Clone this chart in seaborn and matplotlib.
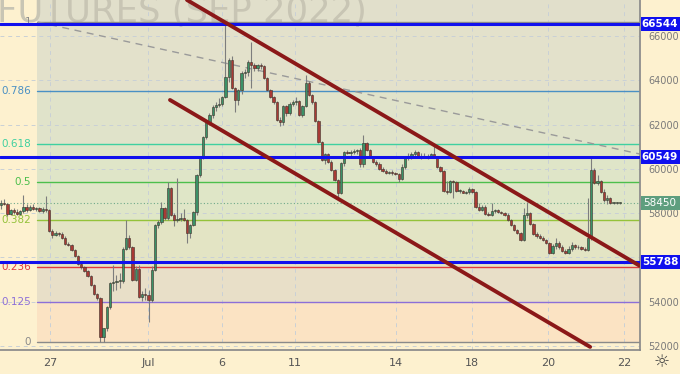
import matplotlib
matplotlib.use("Agg")
import matplotlib.pyplot as plt
import matplotlib.transforms as mtransforms
from matplotlib.patches import Rectangle
import numpy as np
import seaborn as sns

# candles (hourly-ish bars)
opens = [58350, 58480, 58400, 57950, 58150, 58050, 57980, 58100, 58300, 58150,
         58300, 58200, 58250, 58100, 58200, 58150, 57200, 57000, 57100, 57050,
         56900, 56600, 56550, 56350, 56050, 55700, 55550, 55400, 55150, 54750,
         54350, 54150, 52400, 52800, 53750, 54850, 54900, 54950, 54950, 56400,
         56900, 56450, 55000, 55500, 54200, 54350, 54300, 54100, 55450, 57450,
         57600, 58230, 57780, 59140, 57920, 57690, 57750, 57800, 57700, 57110,
         57470, 58050, 59720, 60540, 61440, 62120, 62430, 62800, 62900, 62950,
         63250, 64150, 64900, 63650, 63100, 63550, 64330, 64370, 64830, 64700,
         64550, 64700, 64650, 64100, 63560, 63250, 63000, 62200, 62100, 62850,
         62500, 62950, 63000, 63050, 62450, 62850, 63880, 63350, 63000, 62150,
         61200, 60400, 60650, 60300, 59950, 59500, 58900, 60250, 60750, 60700,
         60750, 60800, 60850, 60200, 61150, 60850, 60550, 60300, 60200, 60000,
         59900, 59800, 59850, 59800, 59750, 59550, 60100, 60550, 60600, 60650,
         60750, 60550, 60600, 60550, 60600, 60650, 60550, 60100, 59900, 59000,
         58950, 59450, 59400, 59000, 59000, 58900, 58950, 59100, 58950, 58300,
         58150, 58300, 57950, 57900, 58100, 58150, 58050, 58000, 57900, 57700,
         57450, 57250, 57100, 56800, 57900, 58000, 57500, 57050, 56950, 56900,
         56800, 56650, 56200, 56500, 56650, 56450, 56300, 56200, 56400, 56550,
         56450, 56450, 56400, 56350, 56900, 59950, 59350, 59450, 58950, 58600,
         58700, 58450, 58450, 58450]
highs = [58600, 58650, 58450, 58200, 58250, 58200, 58150, 58800, 58400, 58350,
         58400, 58300, 58300, 58300, 58780, 58200, 57300, 57200, 57150, 57150,
         56950, 56700, 56600, 56400, 56100, 55750, 55600, 55450, 55200, 54800,
         54400, 54200, 52800, 53800, 54900, 55650, 55200, 55300, 56450, 57700,
         57000, 56500, 55600, 55650, 54500, 54600, 54550, 55600, 57500, 57700,
         58500, 58300, 59410, 59200, 58000, 59600, 58000, 58200, 57750, 57500,
         58100, 59750, 60600, 61500, 62200, 62500, 62900, 63000, 63200, 63300,
         66630, 65000, 65100, 63700, 63600, 64400, 64500, 64900, 65730, 64800,
         64750, 64800, 64700, 64150, 63600, 63300, 63050, 62350, 62900, 62900,
         63000, 63100, 63250, 63100, 62900, 64240, 63950, 63400, 63050, 62200,
         61250, 60700, 60700, 60400, 60000, 59550, 60300, 60800, 60850, 60850,
         60900, 60900, 60950, 61550, 61200, 60900, 60600, 60400, 60300, 60100,
         60000, 59900, 59950, 59850, 59800, 60200, 60600, 60700, 60750, 60850,
         60800, 60700, 60700, 60650, 60700, 61080, 60600, 60150, 59950, 59450,
         59500, 59500, 59450, 59100, 59050, 59000, 59200, 59150, 59000, 58450,
         58350, 58350, 58050, 58460, 58200, 58200, 58100, 58050, 58000, 57750,
         57500, 57300, 57150, 58250, 58500, 58050, 57550, 57150, 57050, 56950,
         56850, 56700, 56600, 56900, 56750, 56550, 56400, 56500, 56700, 56600,
         56550, 56500, 56450, 58680, 60490, 60050, 59700, 59500, 59100, 58800,
         58750, 58500, 58500, 58500]
lows = [58200, 58350, 57850, 57900, 57950, 57900, 57900, 58000, 58050, 58100,
        58150, 58100, 58050, 58000, 58050, 57150, 56900, 56950, 56950, 56850,
        56550, 56500, 56300, 56000, 55650, 55500, 55350, 55100, 54700, 54300,
        54100, 52180, 52200, 52700, 53650, 54500, 54550, 54600, 54850, 56350,
        56400, 54950, 54950, 54150, 54050, 54100, 53100, 54000, 55400, 57350,
        57500, 57700, 57700, 57850, 57400, 57600, 57650, 57650, 56650, 56900,
        57400, 57900, 59650, 60450, 61350, 62000, 62300, 62600, 62800, 62850,
        63200, 63900, 63600, 62570, 62900, 63400, 64100, 64200, 63650, 64400,
        64400, 64500, 64050, 63500, 63200, 62950, 62150, 61950, 62000, 62400,
        62450, 62850, 62900, 62400, 62350, 62800, 63300, 62950, 62100, 61150,
        60350, 60200, 60250, 59900, 59450, 58750, 58850, 60150, 60650, 60600,
        60650, 60650, 60100, 60100, 60800, 60500, 60250, 60150, 59950, 59850,
        59750, 59750, 59700, 59700, 59400, 59500, 60000, 60400, 60450, 60550,
        60500, 60450, 60500, 60450, 60500, 60500, 60050, 59850, 58950, 58850,
        58900, 58700, 58950, 58900, 58900, 58850, 58850, 58900, 58250, 58100,
        58100, 57900, 57850, 57850, 58000, 58000, 57950, 57850, 57650, 57400,
        57200, 57050, 56750, 56750, 57800, 57450, 57000, 56900, 56850, 56750,
        56600, 56150, 56150, 56400, 56400, 56250, 56150, 56150, 56300, 56400,
        56400, 56350, 56300, 56300, 56800, 59300, 59250, 58900, 58500, 58400,
        58400, 58400, 58400, 58430]
closes = [58480, 58400, 57950, 58150, 58050, 57980, 58100, 58300, 58150, 58300,
          58200, 58250, 58100, 58200, 58150, 57200, 57000, 57100, 57050, 56900,
          56600, 56550, 56350, 56050, 55700, 55550, 55400, 55150, 54750, 54350,
          54150, 52400, 52800, 53750, 54850, 54900, 54950, 54950, 56400, 56900,
          56450, 55000, 55500, 54200, 54350, 54300, 54100, 55450, 57450, 57600,
          58230, 57780, 59140, 57920, 57690, 57750, 57800, 57700, 57110, 57470,
          58050, 59720, 60540, 61440, 62120, 62430, 62800, 62900, 62950, 63250,
          64150, 64900, 63650, 63100, 63550, 64330, 64370, 64830, 64700, 64550,
          64700, 64650, 64100, 63560, 63250, 63000, 62200, 62100, 62850, 62500,
          62950, 63000, 63050, 62450, 62850, 63880, 63350, 63000, 62150, 61200,
          60400, 60650, 60300, 59950, 59500, 58900, 60250, 60750, 60700, 60750,
          60800, 60850, 60200, 61150, 60850, 60550, 60300, 60200, 60000, 59900,
          59800, 59850, 59800, 59750, 59550, 60100, 60550, 60600, 60650, 60750,
          60550, 60600, 60550, 60600, 60650, 60550, 60100, 59900, 59000, 58950,
          59450, 59400, 59000, 59000, 58900, 58950, 59100, 58950, 58300, 58150,
          58300, 57950, 57900, 58100, 58150, 58050, 58000, 57900, 57700, 57450,
          57250, 57100, 56800, 57900, 58000, 57500, 57050, 56950, 56900, 56800,
          56650, 56200, 56500, 56650, 56450, 56300, 56200, 56400, 56550, 56450,
          56450, 56400, 56350, 56900, 59950, 59350, 59450, 58950, 58600, 58700,
          58450, 58450, 58450, 58450]

date_labels = ["27", "Jul", "6", "11", "14", "18", "20", "22"]
date_bars = [15.3, 45.8, 68.9, 91.7, 123.2, 146.9, 170.6, 194.3]
price_ticks = [52000, 54000, 56000, 58000, 60000, 62000, 64000, 66000]
price_tick_labels = ["52000", "54000", "", "58000", "60000", "62000", "64000", "66000"]

# fibonacci retracement
fib_high = 66630
fib_low = 52180
fib_levels = [0, 0.125, 0.236, 0.382, 0.5, 0.618, 0.786, 1]
fib_names = ["0", "0.125", "0.236", "0.382", "0.5", "0.618", "0.786", "1"]
fib_colors = ["#8a8a8a", "#8c6fd8", "#e0393e", "#94c23a", "#4cbf4c", "#3fd0a0", "#4a90c4", "#8a8a8a"]
fib_fills = ["#fbe3c3", "#e8dfc8", "#e3e4c4", "#dfe6c7", "#dfe5c8", "#e0e3ca", "#e3e1cb"]

# horizontal levels and drawings
blue_levels = [66544, 60549, 55788]
last_price = 58450
upper_channel = ([58.0, 199.2], [67625, 55620])
lower_channel = ([52.7, 183.7], [63110, 51960])
dash_line = ([11.5, 199.2], [66630, 60670])

sns.set_theme(style="white")
plt.rcParams['font.family'] = ['DejaVu Sans']

fig = plt.figure(figsize=(6.8, 3.74), dpi=100)
fig.patch.set_facecolor("#fdf1cf")
ax = fig.add_axes([0, 24 / 374, 640 / 680, 350 / 374])
ax.set_facecolor("#fdf1cf")

x_lo, x_hi = -0.31, 199.25
y_lo, y_hi = 51820, 67625
ax.set_xlim(x_lo, x_hi)
ax.set_ylim(y_lo, y_hi)

fib_start = 11.2
fib_prices = [fib_low + lv * (fib_high - fib_low) for lv in fib_levels]
for i in range(len(fib_prices) - 1):
    ax.fill_between([fib_start, x_hi], fib_prices[i], fib_prices[i + 1],
                    color=fib_fills[i], lw=0, zorder=0)
ax.fill_between([fib_start, x_hi], fib_prices[-1], y_hi, color="#e1dfcb", lw=0, zorder=0)

# grid
for p in price_ticks:
    ax.axhline(p, color="#c9d0d6", lw=0.7, ls=(0, (4, 4)), zorder=0.5)
for b in date_bars:
    ax.axvline(b, color="#c9d0d6", lw=0.7, ls=(0, (4, 4)), zorder=0.5)

# watermark
ax.text(-0.005, 1 - 22 / 350, "FUTURES (SEP 2022)", transform=ax.transAxes,
        fontsize=25.5, color="#c8c5b4", va="baseline", ha="left", zorder=0.6, clip_on=False)

xmin_frac = (fib_start - x_lo) / (x_hi - x_lo)
trans = mtransforms.blended_transform_factory(ax.transAxes, ax.transData)
for p, name, col in zip(fib_prices, fib_names, fib_colors):
    ax.axhline(p, xmin=xmin_frac, color=col, lw=1, zorder=1)
    ax.text(31 / 640, p, name, transform=trans, ha="right", va="center",
            fontsize=7.5, color=col, zorder=1)

ax.plot(dash_line[0], dash_line[1], color="#9a9a9a", lw=1, ls=(0, (5, 4)), zorder=1)
ax.axhline(last_price, color="#6fa98a", lw=0.8, ls=(0, (1, 2)), zorder=1)

# candles
idx = np.arange(len(closes))
o = np.array(opens)
c = np.array(closes)
up = c >= o
body_low = np.minimum(o, c)
body_h = np.maximum(np.abs(c - o), 40)
ax.vlines(idx, lows, highs, color="#7d7d7d", lw=0.8, zorder=2)
ax.bar(idx, body_h, bottom=body_low, width=0.72,
       color=np.where(up, "#3b9168", "#a83a35"), edgecolor="#3d3029", linewidth=0.4, zorder=3)

for lvl in blue_levels:
    ax.axhline(lvl, color="#1010ee", lw=2.2, zorder=4)

sns.lineplot(x=upper_channel[0], y=upper_channel[1], color="#8b1818", lw=2.8, ax=ax, zorder=5)
sns.lineplot(x=lower_channel[0], y=lower_channel[1], color="#8b1818", lw=2.8, ax=ax, zorder=5)

# axes styling
for s in ["top", "left"]:
    ax.spines[s].set_visible(False)
ax.spines["right"].set_color("#8a8a8a")
ax.spines["bottom"].set_color("#8a8a8a")
ax.yaxis.tick_right()
ax.set_yticks(price_ticks)
ax.set_yticklabels(price_tick_labels, fontsize=7, color="#7a7a7a")
ax.tick_params(axis="y", length=0, pad=6)
ax.set_xticks(date_bars)
ax.set_xticklabels(date_labels, fontsize=8, color="#555555")
ax.tick_params(axis="x", length=0, pad=6)
ax.grid(False)

# price tags on the right scale
box_h = 640
tag_x = 660 / 640
for lvl, fc, weight in [(v, "#1010ee", "bold") for v in blue_levels] + [(last_price, "#5e9e7e", "normal")]:
    ax.add_patch(Rectangle((641 / 640, lvl - box_h / 2), 40 / 640, box_h, transform=trans,
                           facecolor=fc, edgecolor="none", clip_on=False, zorder=6))
    ax.text(tag_x, lvl, str(lvl), transform=trans, ha="center", va="center", fontsize=7.5,
            fontweight=weight, color="white", clip_on=False, zorder=7)

fig.text(662 / 680, 12 / 374, "☼", fontsize=13, color="#444444", ha="center", va="center")

fig.savefig("out.png", dpi=100, facecolor=fig.get_facecolor())
